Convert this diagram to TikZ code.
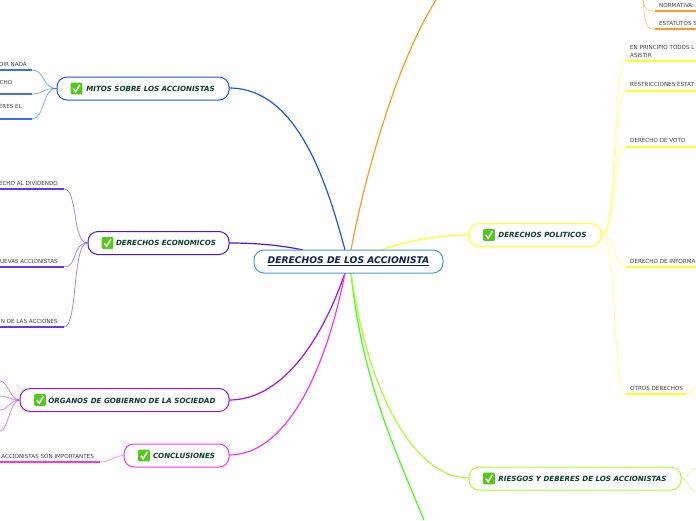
\documentclass[tikz,border=0pt]{standalone}
\usepackage{fontspec}
\setmainfont{DejaVu Sans}
\usetikzlibrary{calc,positioning}
\definecolor{mitosBlue}{HTML}{1A55F0}
\definecolor{econViolet}{HTML}{4A14E8}
\definecolor{organosPurple}{HTML}{A50FE8}
\definecolor{concluPink}{HTML}{FF33E6}
\definecolor{riesgosLime}{HTML}{A6FF33}
\definecolor{greenLine}{HTML}{44FF14}
\definecolor{orangeLine}{HTML}{FF9C1F}
\definecolor{yellowLine}{HTML}{FFFF26}
\definecolor{topicText}{HTML}{0B3D2E}
\definecolor{rootText}{HTML}{0B1F4D}
\definecolor{rootEdge}{HTML}{4A9AD8}
\definecolor{checkGreen}{HTML}{55C81E}
\tikzset{
  topic/.style={draw,line width=1pt,rounded corners=10pt,fill=white,minimum height=23pt,inner sep=0pt,
    text=topicText,font=\bfseries\itshape\fontsize{7.1}{8}\selectfont},
  rootnode/.style={topic,draw=rootEdge,text=rootText,font=\bfseries\itshape\fontsize{9.2}{10}\selectfont},
  leaf/.style={inner sep=0pt,text=black!75,font=\fontsize{5.6}{8}\selectfont,align=left},
  branch/.style={line width=1.2pt},
  twig/.style={line width=.8pt,opacity=.5},
  rule/.style={line width=1.5pt},
  tick/.pic={
    \fill[checkGreen,rounded corners=1pt] (-5.8,-5.8) rectangle (5.8,5.8);
    \draw[white,line width=1.4pt] (-3.2,.2) -- (-.8,3.2) -- (3.4,-3.8);
  }
}
\begin{document}
\begin{tikzpicture}[x=1pt,y=-1pt]
\useasboundingbox (0,0) rectangle (696,520);
\clip (0,0) rectangle (696,520);
\fill[white] (0,0) rectangle (696,520);
% free ends at the page border
\coordinate (orangeEnd) at (436,0);
\coordinate (greenEnd) at (424,520);
\coordinate (rootTopL) at (345,250);
\coordinate (rootTopR) at (351,250);
\coordinate (rootBotL) at (345,273);
\coordinate (rootBotR) at (351,273);
% main branches
\draw[branch,orangeLine] (rootTopR) .. controls (366,170) and (398,60) .. (orangeEnd);
\draw[branch,greenLine] (rootBotR) .. controls (362,380) and (395,450) .. (greenEnd);
\draw[branch,mitosBlue] (rootTopL) .. controls (325,175) and (295,88) .. (229,88);
\draw[branch,econViolet] (303,250) .. controls (280,245) and (255,243) .. (229,243);
\draw[branch,organosPurple] (rootBotL) .. controls (320,345) and (280,400) .. (229,400);
\draw[branch,concluPink] (rootBotL) .. controls (325,375) and (285,455) .. (229,455);
\draw[branch,yellowLine] (381,250) .. controls (410,240) and (440,235) .. (469,235);
\draw[branch,riesgosLime] (rootBotR) .. controls (368,395) and (415,478) .. (469,478);
% central topic and first level
\node[rootnode,minimum width=189pt] (root) at (348.5,261.5) {\underline{DERECHOS DE LOS ACCIONISTA}};
\node[topic,draw=mitosBlue,minimum width=172pt] (mitos) at (143,88.5) {\hspace{15pt}MITOS SOBRE LOS ACCIONISTAS};
\node[topic,draw=econViolet,minimum width=141pt] (econ) at (158.5,243) {\hspace{15pt}DERECHOS ECONOMICOS};
\node[topic,draw=organosPurple,minimum width=209pt] (organos) at (124.5,400) {\hspace{15pt}ÓRGANOS DE GOBIERNO DE LA SOCIEDAD};
\node[topic,draw=concluPink,minimum width=105pt] (conclu) at (176.5,455.5) {\hspace{15pt}CONCLUSIONES};
\node[topic,draw=yellowLine,minimum width=132pt] (politicos) at (535,235) {\hspace{15pt}DERECHOS POLITICOS};
\node[topic,draw=riesgosLime,minimum width=212pt] (riesgos) at (575,478.5) {\hspace{15pt}RIESGOS Y DEBERES DE LOS ACCIONISTAS};
\pic at (76.5,88.5) {tick};
\pic at (107.5,243) {tick};
\pic at (40,400) {tick};
\pic at (144,455.5) {tick};
\pic at (489,235) {tick};
\pic at (489,478.5) {tick};
% mitos
\node[leaf,anchor=east] (mitosA) at (27,64) {DIR NADA};
\node[leaf,anchor=east] (mitosB) at (12.5,82) {CHO};
\node[leaf,anchor=east] (mitosC) at (22,106) {ERES EL};
\foreach \y in {70,94,119} {
  \draw[rule,mitosBlue!85] (0,\y) -- (32,\y);
  \draw[twig,mitosBlue] (mitos.west) .. controls (42,88) and (45,\y) .. (32,\y);
}
% economicos
\node[leaf,anchor=east] (econA) at (58,183.5) {ECHO AL DIVIDENDO};
\node[leaf,anchor=east] (econB) at (58,261.5) {UEVAS ACCIONISTAS};
\node[leaf,anchor=east] (econC) at (58,321.5) {N DE LAS ACCIONES};
\foreach \y in {189,267,327} {
  \draw[rule,econViolet!85] (0,\y) -- (64,\y);
  \draw[twig,econViolet] (econ.west) .. controls (72,243) and (78,\y) .. (64,\y);
}
% organos
\foreach \y in {381,396,410,431} {
  \draw[twig,organosPurple] (organos.west) .. controls (10,400) and (8,\y) .. (0,\y);
}
% conclusiones
\node[leaf,anchor=east] (concluA) at (94,456.5) {ACCIONISTAS SON IMPORTANTES};
\draw[rule,concluPink] (0,462) -- (100,462);
\draw[twig,concluPink] (conclu.west) .. controls (112,456) and (112,462) .. (100,462);
% politicos
\node[leaf,anchor=north west] (polA) at (630,45) {EN PRINCIPIO TODOS L\\ASISTIR};
\node[leaf,anchor=west] (polB) at (630,84.5) {RESTRICCIONES ESTAT};
\node[leaf,anchor=west] (polC) at (630,140.5) {DERECHO DE VOTO};
\node[leaf,anchor=west] (polD) at (630,261.5) {DERECHO DE INFORMA};
\node[leaf,anchor=west] (polE) at (630,388.5) {OTROS DERECHOS};
\foreach \y/\e in {61/696,91/696,147/696,267/696,394/686} {
  \draw[rule,yellowLine] (626,\y) -- (\e,\y);
  \draw[twig,yellowLine] (politicos.east) .. controls (618,235) and (612,\y) .. (626,\y);
}
\coordinate (otrosEnd) at (696,386);
\draw[twig,yellowLine] (686,394) .. controls (690,394) and (692,390) .. (otrosEnd);
% estatutos
\node[leaf,anchor=west] (orgA) at (659,5.5) {NORMATIVA:};
\node[leaf,anchor=west] (orgB) at (659,23.5) {ESTATUTOS S};
\coordinate (orgTop) at (643,0);
\foreach \y in {11,29} {
  \draw[rule,orangeLine] (655,\y) -- (696,\y);
  \draw[twig,orangeLine] (orgTop) .. controls (645,\y) and (648,\y) .. (655,\y);
}
% riesgos
\foreach \y in {468,492} {
  \coordinate (riesgosEnd) at (696,\y);
  \draw[twig,riesgosLime] (riesgos.east) .. controls (688,478) and (690,\y) .. (riesgosEnd);
}
\end{tikzpicture}
\end{document}
